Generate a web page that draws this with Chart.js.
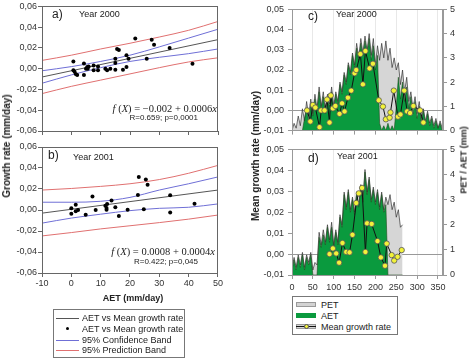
<!DOCTYPE html>
<html>
<head>
<meta charset="utf-8">
<script src="https://cdn.jsdelivr.net/npm/chart.js@4.4.0/dist/chart.umd.min.js"></script>
<style>
  body { margin: 0; background: #fff; font-family: "Liberation Sans", Arial, sans-serif; }
  #wrap { position: relative; width: 474px; height: 360px; overflow: hidden; }
  canvas { position: absolute; }
  .lbl { position: absolute; white-space: nowrap; color: #222; font-size: 9px; line-height: 1; }
  .tag { font-size: 12px; }
  .eq { font-family: "Liberation Serif", "DejaVu Serif", serif; font-size: 10.5px; }
  .stat { font-size: 8px; }
  .ttl { font-weight: bold; }
  .rot { transform: translate(-50%, -50%) rotate(-90deg); }
  .box { position: absolute; border: 1px solid #777; background: #fff; box-sizing: border-box; }
  .item { position: absolute; left: 0; height: 10px; width: 100%; }
  .item span { position: absolute; top: 0; font-size: 9px; line-height: 10px; color: #222; white-space: nowrap; }
  .sw { position: absolute; }
</style>
</head>
<body>
<div id="wrap">
  <canvas id="chartA" width="224" height="140" style="left:0;top:0"></canvas>
  <canvas id="chartB" width="224" height="160" style="left:0;top:140px"></canvas>
  <canvas id="chartC" width="234" height="140" style="left:240px;top:0"></canvas>
  <canvas id="chartD" width="234" height="155" style="left:240px;top:140px"></canvas>

  <!-- panel texts -->
  <div class="lbl tag" style="left:52px;top:8px">a)</div>
  <div class="lbl" style="left:79px;top:10px">Year 2000</div>
  <div class="lbl eq" style="right:257px;top:104px"><i>f</i> (<i>X</i>) = −0.002 + 0.0006<i>x</i></div>
  <div class="lbl stat" style="right:276px;top:114px">R=0.659; p=0,0001</div>

  <div class="lbl tag" style="left:48px;top:149px">b)</div>
  <div class="lbl" style="left:73px;top:153px">Year 2001</div>
  <div class="lbl eq" style="right:259px;top:247px"><i>f</i> (<i>X</i>) = 0.0008 + 0.0004<i>x</i></div>
  <div class="lbl stat" style="right:276px;top:258px">R=0.422; p=0,045</div>

  <div class="lbl tag" style="left:308px;top:10px">c)</div>
  <div class="lbl" style="left:336px;top:10px">Year 2000</div>
  <div class="lbl tag" style="left:308px;top:152px">d)</div>
  <div class="lbl" style="left:337px;top:152px">Year 2001</div>

  <!-- axis titles -->
  <div class="lbl ttl" style="left:133px;top:294px;transform:translateX(-50%)">AET (mm/day)</div>
  <div class="lbl ttl rot" style="left:7px;top:146px;font-size:10px">Growth rate (mm/day)</div>
  <div class="lbl ttl rot" style="left:256px;top:156px;font-size:10px">Mean growth rate (mm/day)</div>
  <div class="lbl ttl rot" style="left:464px;top:160px">PET / AET (mm)</div>

  <!-- left legend -->
  <div class="box" style="left:53px;top:309px;width:132px;height:49px">
    <div class="item" style="top:3px"><div class="sw" style="left:2px;top:5px;width:23px;height:1px;background:#555"></div><span style="left:28px">AET vs Mean growth rate</span></div>
    <div class="item" style="top:14px"><div class="sw" style="left:12px;top:3px;width:3px;height:3px;border-radius:50%;background:#000"></div><span style="left:28px">AET vs Mean growth rate</span></div>
    <div class="item" style="top:25px"><div class="sw" style="left:2px;top:5px;width:23px;height:1px;background:#6f6fd6"></div><span style="left:28px">95% Confidence Band</span></div>
    <div class="item" style="top:35px"><div class="sw" style="left:2px;top:5px;width:23px;height:1px;background:#e07070"></div><span style="left:28px">95% Prediction Band</span></div>
  </div>

  <!-- right legend -->
  <div class="box" style="left:292px;top:296px;width:106px;height:39px">
    <div class="item" style="top:3px"><div class="sw" style="left:3px;top:2px;width:20px;height:5px;background:#d3d3d3;border:1px solid #999;box-sizing:border-box"></div><span style="left:28px">PET</span></div>
    <div class="item" style="top:14px"><div class="sw" style="left:3px;top:2px;width:20px;height:5px;background:#0a9a3e"></div><span style="left:28px">AET</span></div>
    <div class="item" style="top:25px"><div class="sw" style="left:3px;top:2px;width:20px;height:5px;background:#d3d3d3;border:1px solid #999;box-sizing:border-box"></div><div class="sw" style="left:3px;top:4px;width:20px;height:1px;background:#111"></div><div class="sw" style="left:11px;top:2px;width:5px;height:5px;border-radius:50%;background:#f2f23a;border:1px solid #555;box-sizing:border-box"></div><span style="left:28px">Mean growth rate</span></div>
  </div>
</div>

<script>
// ---- panel a / b : scatter of growth rate against AET ----
const aet2000 = [0.7, 0.7, 1.1, 1.5, 2.0, 4.3, 4.3, 5.0, 5.4, 5.6, 5.9, 7.6, 7.6, 9.1, 9.1, 11.6, 12.2, 13.3, 15.0, 15.0, 15.0, 15.6, 16.2, 17.6, 18.8, 18.8, 19.5, 21.8, 25.7, 27.4, 28.2, 33.5, 41.3];
const rate2000 = [0.007, -0.0016, -0.003, -0.005, -0.006, 0.005, -0.006, 0.0, 0.0016, 0.0, 0.002, 0.003, -0.0016, 0.002, -0.0016, 0.0, -0.0016, 0.0, 0.0096, 0.0054, -0.001, 0.019, 0.018, -0.001, 0.013, 0.0016, 0.0096, 0.029, 0.0096, 0.028, 0.023, 0.020, 0.0048];
const aet2001 = [0, 0, 1.5, 1.5, 2.3, 4.9, 7.2, 8.3, 11.6, 12, 12, 12.2, 13.7, 15, 16.2, 19.2, 22.7, 23, 24.7, 25.4, 26, 33.7, 33.7, 42];
const rate2001 = [0.0016, -0.0035, 0.005, -0.0013, 0.0, -0.0045, 0.0128, 0.0, 0.004, 0.002, 0.0003, 0.0058, 0.009, 0.0026, -0.0058, 0.0003, 0.0144, 0.0315, 0.0006, 0.029, 0.024, 0.014, -0.0023, 0.006];

// fitted line end points and bands, read at these AET values
const fitX = [-10, 50];
const fit2000 = [-0.008, 0.028];
const fit2001 = [-0.003, 0.019];
const bandX = [-10, 0, 10, 20, 30, 40, 50];
const confUp2000 = [-0.002, 0.002, 0.007, 0.013, 0.021, 0.0295, 0.038];
const confLo2000 = [-0.014, -0.006, 0.001, 0.007, 0.011, 0.0145, 0.019];
const predUp2000 = [0.008, 0.013, 0.019, 0.0245, 0.0305, 0.037, 0.0455];
const predLo2000 = [-0.024, -0.017, -0.011, -0.005, 0.001, 0.0065, 0.0105];
const confUp2001 = [0.0074, 0.0074, 0.0083, 0.012, 0.019, 0.025, 0.0315];
const confLo2001 = [-0.0125, -0.0077, -0.004, -0.0006, 0.0016, 0.0026, 0.0058];
const predUp2001 = [0.019, 0.0205, 0.0225, 0.025, 0.029, 0.035, 0.0425];
const predLo2001 = [-0.0247, -0.0215, -0.018, -0.015, -0.012, -0.0087, -0.0048];

// ---- panel c / d : PET, AET (mm) and mean growth rate over the year ----
const days = [0, 5, 10, 15, 20, 25, 30, 35, 40, 45, 50, 55, 60, 65, 70, 75, 80, 85, 90, 95,
  100, 105, 110, 115, 120, 125, 130, 135, 140, 145, 150, 155, 160, 165, 170, 175, 180, 185, 190, 195,
  200, 205, 210, 215, 220, 225, 230, 235, 240, 245, 250, 255, 260, 265, 270, 275, 280, 285, 290, 295,
  300, 305, 310, 315, 320, 325, 330, 335, 340, 345, 350, 355, 360, 365];
const pet2000 = [0, 0.3, 0.1, 0.6, 0.2, 0.9, 0.4, 1.2, 0.6, 1.3, 0.7, 1.5, 0.9, 1.8, 1.0, 1.6, 0.8, 1.5, 1.1, 1.8,
  1.0, 1.6, 1.2, 2.0, 1.6, 2.4, 2.0, 2.8, 2.4, 3.2, 2.7, 3.6, 3.0, 3.8, 3.2, 3.9, 3.3, 4.0, 3.1, 3.8,
  2.7, 3.5, 2.9, 3.6, 3.0, 3.7, 2.9, 3.4, 2.6, 3.0, 2.5, 2.8, 1.9, 2.5, 1.6, 2.2, 1.2, 1.6, 0.9, 1.4,
  0.7, 1.2, 0.5, 0.9, 0.4, 0.8, 0.3, 0.6, 0.2, 0.5, 0.1, 0.4, 0.1, 0];
const aetDay2000 = [0, 0, 0, 0, 0, 0, 0.5, 0.9, 0.4, 1.1, 0.6, 1.3, 0.8, 1.6, 0.9, 1.4, 0.7, 1.3, 1.0, 1.6,
  0.9, 1.5, 1.1, 1.9, 1.5, 2.3, 1.9, 2.7, 2.3, 3.1, 2.6, 3.4, 2.9, 3.6, 3.1, 3.7, 3.2, 3.8, 2.9, 3.5,
  2.5, 3.1, 0.3, 0, 0.2, 0, 0.3, 0, 0.2, 0, 1.0, 2.2, 1.3, 2.0, 1.2, 1.8, 0.9, 1.4, 0.7, 1.2,
  0.5, 1.0, 0.4, 0.8, 0.3, 0.7, 0.2, 0.5, 0.1, 0.4, 0.1, 0.3, 0, 0];
const pet2001 = [0.3, 0.7, 0.3, 0.8, 0.4, 0.9, 0.3, 0.8, 0.5, 0.9, 0.2, 0.5, 0.4, 1.7, 1.2, 1.8, 1.3, 2.0, 1.4, 2.1,
  1.2, 1.8, 1.3, 2.4, 2.0, 3.3, 2.7, 3.4, 2.6, 3.1, 2.5, 3.3, 2.8, 3.6, 3.0, 4.2, 3.3, 3.9, 3.0, 3.5,
  2.9, 3.4, 2.7, 3.3, 2.6, 3.1, 2.8, 3.2, 2.6, 2.9, 2.3, 2.6, 1.9, 2.0, null, null, null, null, null, null,
  null, null, null, null, null, null, null, null, null, null, null, null, null, null];
const aetDay2001 = [0.2, 0.6, 0.2, 0.7, 0.3, 0.8, 0.2, 0.7, 0.4, 0.8, 0, 0, 0, 1.5, 1.1, 1.6, 1.2, 1.9, 1.3, 1.9,
  1.1, 1.7, 1.2, 2.3, 1.9, 3.2, 2.6, 3.3, 2.5, 3.0, 2.4, 3.2, 2.7, 3.5, 2.9, 4.1, 3.2, 3.8, 2.9, 3.4,
  2.8, 3.3, 2.6, 3.2, 2.5, 2.8, 0, 0, 0, 0, 0, 0, 0, 0, null, null, null, null, null, null,
  null, null, null, null, null, null, null, null, null, null, null, null, null, null];

const growthDays2000 = [36, 44, 50, 56, 66, 70, 78, 84, 90, 93, 98, 104, 114, 120, 126, 134, 142, 150, 154, 164, 170, 176, 186, 194, 208, 218, 225, 234, 236, 244, 254, 260, 269, 276, 283, 291, 307, 315];
const growth2000 = [0.0, -0.0055, 0.0027, 0.0014, -0.0083, 0.0, 0.0, 0.0054, -0.006, 0.0074, 0.001, 0.0022, -0.0017, 0.0035, -0.0005, 0.0063, 0.0098, 0.0184, 0.02, 0.0279, 0.0129, 0.0294, 0.0208, 0.0231, 0.005, 0.0019, -0.0044, -0.0036, -0.001, 0.0098, -0.0031, -0.002, 0.0098, -0.0005, -0.0013, 0.0022, 0.0, -0.006];
const growthDays2001 = [90, 98, 106, 113, 121, 130, 138, 145, 154, 160, 168, 176, 180, 191, 205, 213, 223, 227, 239, 245, 253, 263];
const growth2001 = [0.0, 0.0027, 0.0003, -0.0041, 0.0053, 0.001, 0.0008, 0.0092, 0.0244, 0.029, 0.0316, 0.001, 0.0147, 0.0144, 0.0062, -0.0016, -0.0056, 0.005, -0.0005, -0.0031, -0.0013, 0.0019];

Chart.defaults.font.family = '"Liberation Sans", Arial, sans-serif';
Chart.defaults.font.size = 9;
Chart.defaults.color = '#333';
Chart.defaults.animation = false;

const xy = (xs, ys) => xs.map((x, i) => ({ x: x, y: ys[i] }));
const comma = v => (Math.abs(v) < 1e-9 ? 0 : v).toFixed(2).replace('.', ',');

// box round the plot area
const frame = {
  id: 'frame',
  afterDatasetsDraw(chart, args, opts) {
    const { ctx, chartArea: a } = chart;
    ctx.save();
    ctx.strokeStyle = opts.color || '#666';
    ctx.lineWidth = 1;
    ctx.strokeRect(Math.round(a.left) + 0.5, Math.round(a.top) + 0.5, Math.round(a.right - a.left) - 1, Math.round(a.bottom - a.top));
    ctx.restore();
  }
};

function band(xs, ys, color) {
  return { data: xy(xs, ys), borderColor: color, borderWidth: 1, pointRadius: 0, cubicInterpolationMode: 'monotone' };
}

function regressionChart(id, aet, rate, fit, confUp, confLo, predUp, predLo, showLabels, padTop, axisH) {
  return new Chart(document.getElementById(id), {
    type: 'line',
    data: {
      datasets: [
        { data: xy(aet, rate), showLine: false, pointRadius: 2, pointBackgroundColor: '#000', pointBorderWidth: 0 },
        { data: xy(fitX, fit), borderColor: '#555', borderWidth: 1, pointRadius: 0 },
        band(bandX, confUp, '#6f6fd6'),
        band(bandX, confLo, '#6f6fd6'),
        band(bandX, predUp, '#e07070'),
        band(bandX, predLo, '#e07070')
      ]
    },
    options: {
      responsive: false,
      layout: { padding: { top: padTop, right: 6, left: 0, bottom: 0 } },
      plugins: { legend: { display: false }, tooltip: { enabled: false }, frame: { color: '#666' } },
      scales: {
        x: {
          type: 'linear', min: -10, max: 50,
          ticks: { stepSize: 10, display: showLabels, padding: 1, autoSkip: false, callback: v => v },
          grid: { drawOnChartArea: false, tickLength: 4, color: '#666' },
          border: { color: '#666' },
          afterFit: s => { s.height = axisH; }
        },
        y: {
          min: -0.06, max: 0.06,
          ticks: { stepSize: 0.02, callback: comma, padding: 1 },
          grid: { drawOnChartArea: false, tickLength: 4, color: '#666' },
          border: { color: '#666' },
          afterFit: s => { s.width = 42; }
        }
      }
    },
    plugins: [frame]
  });
}

function seasonChart(id, pet, aet, gDays, gRate, showLabels, padTop, axisH) {
  return new Chart(document.getElementById(id), {
    type: 'line',
    data: {
      datasets: [
        { data: xy(gDays, gRate), yAxisID: 'y', order: 0, borderColor: '#111', borderWidth: 1,
          pointRadius: 2.7, pointBackgroundColor: '#f2f23a', pointBorderColor: '#555', pointBorderWidth: 0.8 },
        { data: xy(days, aet), yAxisID: 'y2', order: 1, fill: 'origin', backgroundColor: '#0a9a3e',
          borderColor: '#1f4d1f', borderWidth: 0.6, pointRadius: 0 },
        { data: xy(days, pet), yAxisID: 'y2', order: 2, fill: 'origin', backgroundColor: '#d6d6d6',
          borderColor: '#333', borderWidth: 0.7, pointRadius: 0 }
      ]
    },
    options: {
      responsive: false,
      layout: { padding: { top: padTop, right: 0, left: 0, bottom: 0 } },
      plugins: { legend: { display: false }, tooltip: { enabled: false }, filler: { drawTime: 'beforeDatasetsDraw' }, frame: { color: '#999' } },
      scales: {
        x: {
          type: 'linear', min: 0, max: 362,
          // keep 350 as last tick instead of the axis end
          ticks: { stepSize: 50, includeBounds: false, display: showLabels, padding: 3, autoSkip: false, maxRotation: 0, callback: v => v },
          grid: { color: '#e8e8e8', tickLength: 4, tickColor: '#999' },
          border: { color: '#999' },
          afterFit: s => { s.height = axisH; }
        },
        y: {
          position: 'left', min: -0.01, max: 0.05,
          ticks: { stepSize: 0.01, callback: comma, padding: 4 },
          grid: { color: c => Math.abs(c.tick.value) < 1e-9 ? '#999' : 'rgba(0,0,0,0)', tickLength: 4, tickColor: '#999' },
          border: { color: '#999' },
          afterFit: s => { s.width = 52; }
        },
        y2: {
          position: 'right', min: 0, max: 5,
          ticks: { stepSize: 1, padding: 3 },
          grid: { drawOnChartArea: false, tickLength: 4, color: '#999' },
          border: { color: '#999' },
          afterFit: s => { s.width = 31; }
        }
      }
    },
    plugins: [frame]
  });
}

regressionChart('chartA', aet2000, rate2000, fit2000, confUp2000, confLo2000, predUp2000, predLo2000, false, 6, 9);
regressionChart('chartB', aet2001, rate2001, fit2001, confUp2001, confLo2001, predUp2001, predLo2001, true, 7, 27);
seasonChart('chartC', pet2000, aetDay2000, growthDays2000, growth2000, false, 5, 8);
seasonChart('chartD', pet2001, aetDay2001, growthDays2001, growth2001, true, 7, 20);
</script>
</body>
</html>
